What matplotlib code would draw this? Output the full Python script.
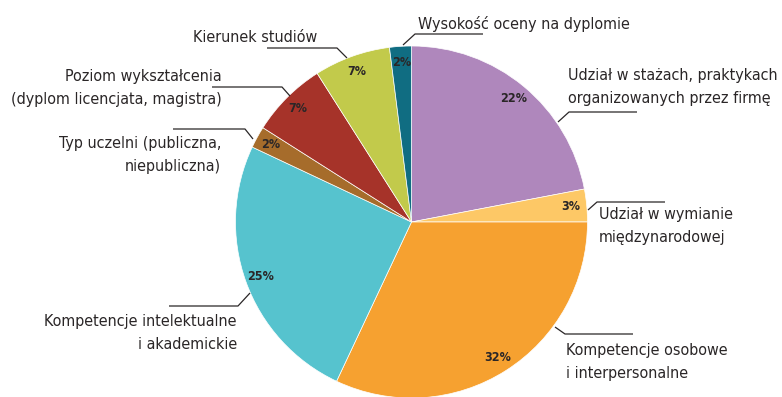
import matplotlib.pyplot as plt

# udzial czynnikow (%), w kolejnosci od godz. 12 zgodnie z ruchem wskazowek
categories = [
    "Udział w stażach, praktykach\norganizowanych przez firmę",
    "Udział w wymianie\nmiędzynarodowej",
    "Kompetencje osobowe\ni interpersonalne",
    "Kompetencje intelektualne\ni akademickie",
    "Typ uczelni (publiczna,\nniepubliczna)",
    "Poziom wykształcenia\n(dyplom licencjata, magistra)",
    "Kierunek studiów",
    "Wysokość oceny na dyplomie",
]
values = [22, 3, 32, 25, 2, 7, 7, 2]
colors = ["#AF87BC", "#FDC866", "#F6A130", "#56C3CE",
          "#A66C2B", "#A63329", "#C2CA4B", "#106D82"]

# opisy: (x, y, wyrownanie) w pikselach + lamana odnosnika
label_pos = [
    (568, 87, "left"),
    (599, 226, "left"),
    (566, 362, "left"),
    (237, 333, "right"),
    (221, 155, "right"),
    (222, 88, "right"),
    (193, 38, "left"),
    (418, 24, "left"),
]
leaders = [
    [(558, 122), (569, 112), (637, 112)],
    [(588, 210), (597, 202), (665, 202)],
    [(555, 327), (565, 334), (633, 334)],
    [(250, 293), (238, 306), (169, 306)],
    [(253, 139), (245, 129), (173, 129)],
    [(290, 96), (282, 87), (212, 87)],
    [(347, 58), (337, 48), (267, 48)],
    [(403, 45), (415, 34), (483, 34)],
]

TXT = "#2A2627"
plt.rcParams["font.family"] = ["DejaVu Sans"]
plt.rcParams["font.stretch"] = "condensed"

W, H = 782, 397
fig = plt.figure(figsize=(W / 100, H / 100), dpi=100)
ax = fig.add_axes([0, 0, 1, 1])

wedges, _, autotexts = ax.pie(
    values,
    colors=colors,
    center=(411.5, 222),
    radius=176,
    startangle=-90,
    counterclock=True,
    autopct="%.0f%%",
    pctdistance=0.91,
    wedgeprops=dict(edgecolor="white", linewidth=0.5),
    textprops=dict(color=TXT, fontsize=9, fontweight="bold"),
)

for (x, y, ha), text in zip(label_pos, categories):
    ax.text(x, y, text, ha=ha, va="center", fontsize=11.5, color=TXT,
            linespacing=1.65)

for pts in leaders:
    xs, ys = zip(*pts)
    ax.plot(xs, ys, color=TXT, lw=0.9, solid_capstyle="butt")

ax.set_xlim(0, W)
ax.set_ylim(H, 0)
ax.set_aspect("equal")
ax.axis("off")

fig.savefig("out.png", dpi=100)
